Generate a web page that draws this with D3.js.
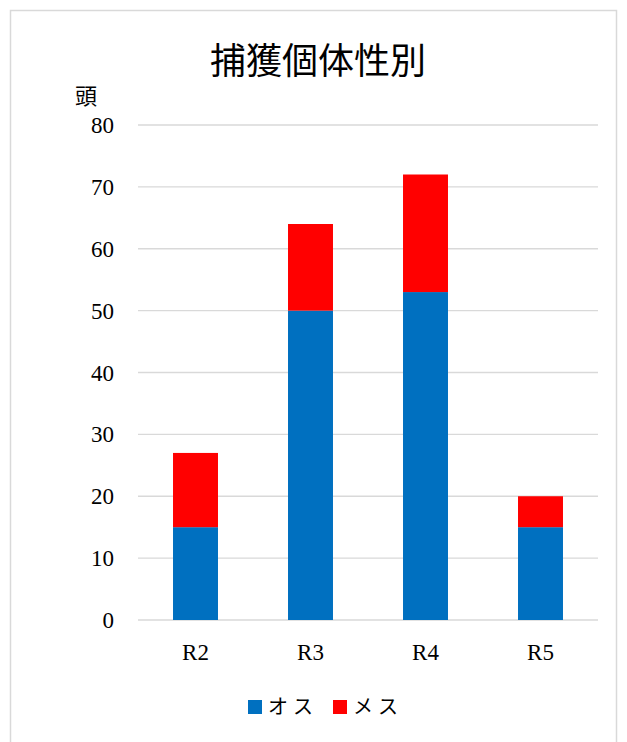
<!DOCTYPE html>
<html>
<head>
<meta charset="utf-8">
<script src="https://cdn.jsdelivr.net/npm/d3@7"></script>
<style>
  body { margin: 0; background: #fff; }
  svg text { font-family: "Liberation Serif", "Noto Sans CJK JP", serif; fill: #000; }
</style>
</head>
<body>
<div class="chart"></div>
<script>
(function() {
  'use strict';

  // data
  const categories = ['R2', 'R3', 'R4', 'R5'],
        male       = [15, 50, 53, 15],
        female     = [12, 14, 19, 5],
        seriesNames  = ['オス', 'メス'],
        seriesColors = ['#0070C0', '#FF0000'],
        yTicks     = [0, 10, 20, 30, 40, 50, 60, 70, 80];

  let width = 627, height = 742,
      plot = { left: 138, right: 598, top: 125, bottom: 620 },

      svg = d3.select('.chart')
        .append('svg')
        .attr('width', width)
        .attr('height', height),

      x = d3.scaleBand()
        .domain(categories)
        .range([plot.left, plot.right])
        .paddingInner(0.609)
        .paddingOuter(0.3045),

      y = d3.scaleLinear()
        .domain([0, 80])
        .range([plot.bottom, plot.top]);

  // outer frame
  svg.append('rect')
    .attr('x', 10.5).attr('y', 10.5)
    .attr('width', 606).attr('height', 760)
    .attr('fill', '#fff')
    .attr('stroke', '#d9d9d9')
    .attr('stroke-width', 1.5);

  // gridlines
  svg.append('g')
    .selectAll('line')
    .data(yTicks)
    .enter()
    .append('line')
      .attr('x1', plot.left).attr('x2', plot.right)
      .attr('y1', d => y(d)).attr('y2', d => y(d))
      .attr('stroke', '#d9d9d9')
      .attr('stroke-width', 1.3);

  // y labels
  svg.append('g')
    .selectAll('text')
    .data(yTicks)
    .enter()
    .append('text')
      .attr('x', 114)
      .attr('y', d => y(d))
      .attr('dy', '0.35em')
      .attr('text-anchor', 'end')
      .style('font-size', '23px')
      .text(d => d);

  // stacked bars
  let rows = categories.map((c, i) => ({ cat: c, male: male[i], female: female[i] })),
      stack = d3.stack().keys(['male', 'female'])(rows);

  svg.append('g')
    .selectAll('g')
    .data(stack)
    .enter()
    .append('g')
      .attr('fill', (d, i) => seriesColors[i])
    .selectAll('rect')
    .data(d => d)
    .enter()
    .append('rect')
      .attr('x', d => x(d.data.cat))
      .attr('y', d => y(d[1]))
      .attr('width', x.bandwidth())
      .attr('height', d => y(d[0]) - y(d[1]));

  // x labels
  svg.append('g')
    .selectAll('text')
    .data(categories)
    .enter()
    .append('text')
      .attr('x', d => x(d) + x.bandwidth() / 2)
      .attr('y', 652)
      .attr('dy', '0.35em')
      .attr('text-anchor', 'middle')
      .style('font-size', '23px')
      .text(d => d);

  // title and unit
  svg.append('text')
    .attr('x', 318).attr('y', 74)
    .attr('text-anchor', 'middle')
    .style('font-size', '36px')
    .text('捕獲個体性別');

  svg.append('text')
    .attr('x', 75).attr('y', 104)
    .style('font-size', '22px')
    .text('頭');

  // legend
  let legend = svg.append('g')
    .selectAll('g')
    .data(seriesNames)
    .enter()
    .append('g')
      .attr('transform', (d, i) => `translate(${248 + i * 85},700)`);

  legend.append('rect')
    .attr('width', 14).attr('height', 14)
    .attr('fill', (d, i) => seriesColors[i]);

  legend.append('text')
    .attr('x', 20).attr('y', 7)
    .attr('dy', '0.35em')
    .style('font-size', '20px')
    .style('letter-spacing', '5px')
    .text(d => d);

})();
</script>
</body>
</html>
